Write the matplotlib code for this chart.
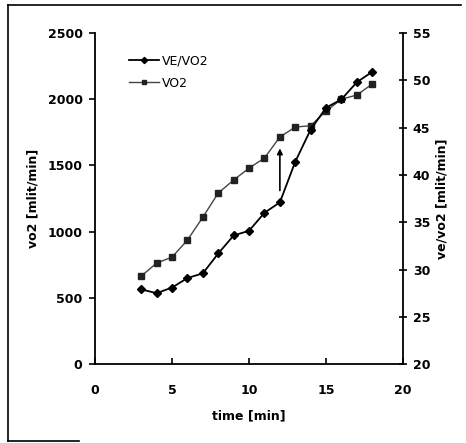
import matplotlib
matplotlib.use("Agg")
import matplotlib.pyplot as plt
from matplotlib.lines import Line2D

time_min = [3, 4, 5, 6, 7, 8, 9, 10, 11, 12, 13, 14, 15, 16, 17, 18]
vo2 = [665, 763, 808, 937, 1110, 1292, 1390, 1480, 1556, 1715, 1790, 1800, 1911, 2000, 2032, 2115]
ve_vo2 = [27.9, 27.5, 28.1, 29.1, 29.6, 31.7, 33.6, 34.1, 36.0, 37.1, 41.4, 44.8, 47.1, 48.0, 49.8, 50.9]

x_ticks = [0, 5, 10, 15, 20]
left_ticks = [0, 500, 1000, 1500, 2000, 2500]
right_ticks = [20, 25, 30, 35, 40, 45, 50, 55]

plt.rcParams['font.family'] = ['DejaVu Sans']

fig = plt.figure(figsize=(4.66, 4.43), dpi=100)
ax = fig.add_axes([0.204, 0.178, 0.661, 0.7475])
ax2 = ax.twinx()

ax.plot(time_min, vo2, color='#444444', lw=1.0, marker='s', ms=5,
        mfc='#222222', mec='#222222', label='VO2', zorder=3)
ax2.plot(time_min, ve_vo2, color='black', lw=1.3, marker='D', ms=4.5,
         mfc='black', mec='black', label='VE/VO2', zorder=4)

ax.set_xlim(0, 20)
ax.set_ylim(0, 2500)
ax2.set_ylim(20, 55)
ax.set_xticks(x_ticks)
ax.set_yticks(left_ticks)
ax2.set_yticks(right_ticks)

for a in (ax, ax2):
    for s in a.spines.values():
        s.set_visible(False)
ax.spines['left'].set_visible(True)
ax.spines['bottom'].set_visible(True)
ax2.spines['right'].set_visible(True)
for s in (ax.spines['left'], ax.spines['bottom'], ax2.spines['right']):
    s.set_linewidth(1.3)

ax.tick_params(axis='y', direction='out', length=4, width=1.2, labelsize=9, pad=5)
ax.tick_params(axis='x', direction='in', length=4, width=1.2, labelsize=9, pad=14)
ax2.tick_params(axis='y', direction='inout', length=6, width=1.2, labelsize=9, pad=4)
for lab in ax.get_xticklabels() + ax.get_yticklabels() + ax2.get_yticklabels():
    lab.set_fontweight('bold')

ax.set_xlabel('time [min]', fontsize=9, fontweight='bold', labelpad=9)
ax.set_ylabel('vo2 [mlit/min]', fontsize=9, fontweight='bold', labelpad=6)
ax2.set_ylabel('ve/vo2 [mlit/min]', fontsize=9, fontweight='bold', labelpad=4)

ax2.annotate('', xy=(12, 1650), xytext=(12, 1290), xycoords=ax.transData,
             textcoords=ax.transData,
             arrowprops=dict(arrowstyle='-|>', color='black', lw=1.2, mutation_scale=8))

h1, l1 = ax2.get_legend_handles_labels()
h2, l2 = ax.get_legend_handles_labels()
ax2.legend(h1 + h2, l1 + l2, loc='upper left', bbox_to_anchor=(0.075, 0.97),
           frameon=False, fontsize=9, handlelength=2.4, handletextpad=0.2,
           markerscale=0.7, labelspacing=0.75)

fig.add_artist(Line2D([0.018, 0.99], [0.988, 0.988], transform=fig.transFigure,
                      color='black', lw=1.2))
fig.add_artist(Line2D([0.018, 0.018], [0.005, 0.988], transform=fig.transFigure,
                      color='black', lw=1.2))
fig.add_artist(Line2D([0.018, 0.17], [0.005, 0.005], transform=fig.transFigure,
                      color='black', lw=1.2))

fig.savefig('out.png', dpi=100)
